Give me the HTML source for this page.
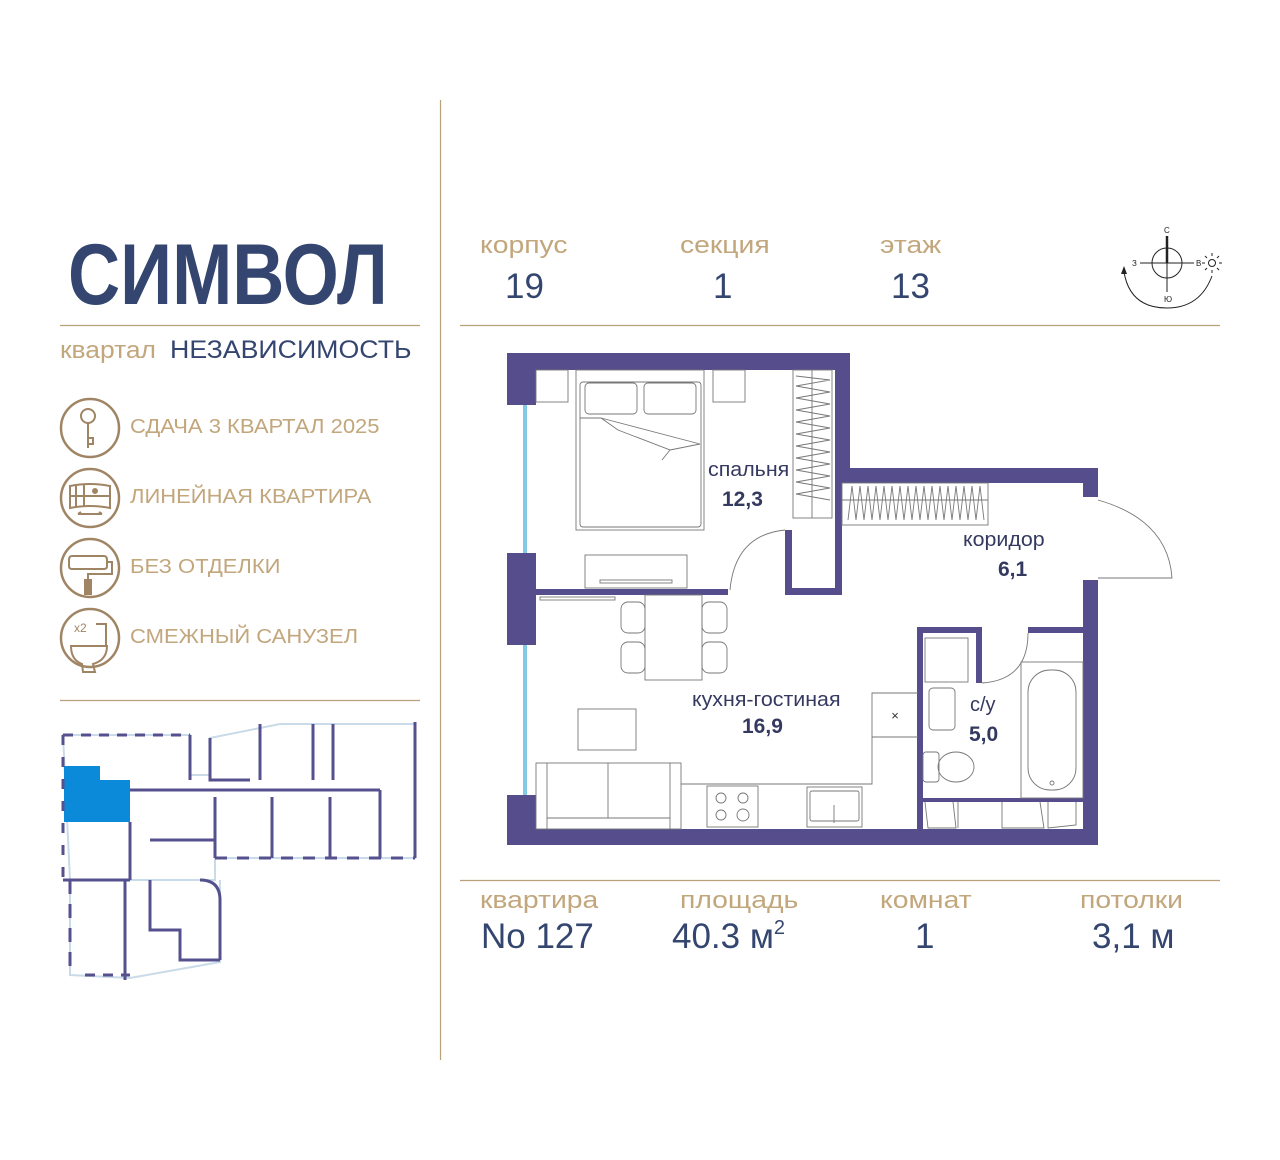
<!DOCTYPE html>
<html><head><meta charset="utf-8"><style>
html,body{margin:0;padding:0;background:#fff;}
body{width:1280px;height:1160px;position:relative;overflow:hidden;font-family:"Liberation Sans",sans-serif;}
.t{position:absolute;white-space:nowrap;transform-origin:left top;}
.g{color:#c2a67c;font-weight:300;}
.n{color:#34466f;}
.s1{transform:scaleX(1.1);}
.s2{transform:scaleX(1.18);}
.s3{transform:scaleX(1.07);}
</style></head><body>
<svg width="1280" height="1160" style="position:absolute;left:0;top:0" xmlns="http://www.w3.org/2000/svg">
<g stroke="#b7a07a" stroke-width="1.2">
<line x1="440.5" y1="100" x2="440.5" y2="1060"/>
<line x1="60" y1="325.5" x2="420" y2="325.5"/>
<line x1="60" y1="700.5" x2="420" y2="700.5"/>
<line x1="460" y1="325.5" x2="1220" y2="325.5"/>
<line x1="460" y1="880.5" x2="1220" y2="880.5"/>
</g>
<g fill="none" stroke="#a08565" stroke-width="2.5">
<circle cx="90" cy="428" r="29"/><circle cx="90" cy="498" r="29"/><circle cx="90" cy="568" r="29"/><circle cx="90" cy="638" r="29"/>
</g>
<g fill="none" stroke="#a08565" stroke-width="2">
<circle cx="88" cy="416" r="7"/><path d="M88 423 V448 M88 438 h5 v6 h-5"/>
<path d="M70 486 q20 -4 40 0 v22 q-20 -4 -40 0z M76 486 v22 M84 485 v22 M70 496 h40"/><circle cx="95" cy="491" r="2" fill="#a08565"/><path d="M78 514 h24 M78 514 l3 -2 M102 514 l-3 -2"/>
<path d="M72 556 h32 q3 0 3 4 v6 q0 3 -3 3 h-32 q-3 0 -3 -3 v-6 q0 -4 3 -4z M108 562 h4 v12 h-24 v6"/><rect x="85" y="580" width="6" height="14" fill="#a08565"/>
<path d="M71 646 h36 q0 14 -14 18 l2 8 h-12 l-1 -8 q-11 -4 -11 -18z M96 624 h10 v22"/>
</g>
<text x="74" y="632" font-family="Liberation Sans" font-size="12" fill="#a08565">x2</text>
<g stroke="#222" fill="none" stroke-width="1">
<circle cx="1167" cy="263" r="15"/>
<line x1="1167" y1="236" x2="1167" y2="292"/><line x1="1167" y1="236" x2="1167" y2="263" stroke-width="2.5"/>
<line x1="1140" y1="263" x2="1194" y2="263"/>
<path d="M1212 276 Q1200 308 1167 308 Q1130 308 1124 272"/>
<circle cx="1212" cy="263" r="3.5"/>
<path d="M1212 256v-3M1212 270v3M1205 263h-3M1219 263h3M1207 258l-2-2M1217 268l2 2M1217 258l2-2M1207 268l-2 2"/>
</g>
<path d="M1124 266 l-3 8 h6z" fill="#222"/>
<g font-family="Liberation Sans" font-size="8" fill="#222">
<text x="1164" y="233">С</text><text x="1132" y="266">З</text><text x="1196" y="266">В</text><text x="1164" y="302">Ю</text></g>

<g fill="#554d8c">
<rect x="507" y="353" width="343" height="17"/>
<rect x="507" y="353" width="29" height="52"/>
<rect x="507" y="553" width="29" height="92"/>
<rect x="507" y="795" width="29" height="50"/>
<rect x="835" y="353" width="15" height="130"/>
<rect x="835" y="468" width="263" height="15"/>
<rect x="1083" y="468" width="15" height="29"/>
<rect x="1083" y="580" width="15" height="265"/>
<rect x="507" y="829" width="591" height="16"/>
<rect x="835" y="483" width="7" height="112"/>
<rect x="785" y="530" width="7" height="65"/>
<rect x="785" y="588" width="57" height="7"/>
<rect x="536" y="589" width="192" height="6"/>
<rect x="917" y="627" width="65" height="6"/>
<rect x="976" y="627" width="6" height="56"/>
<rect x="1028" y="627" width="57" height="6"/>
<rect x="917" y="627" width="6" height="218"/>
<rect x="917" y="798" width="168" height="4"/>
</g>
<g fill="#fff" stroke="#5ab8de" stroke-width="1.5">
<rect x="508" y="405" width="19" height="148" stroke="none"/>
<rect x="508" y="645" width="19" height="150" stroke="none"/>
<line x1="524" y1="405" x2="524" y2="553"/><line x1="526" y1="405" x2="526" y2="553"/>
<line x1="524" y1="645" x2="524" y2="795"/><line x1="526" y1="645" x2="526" y2="795"/>
</g>
<g fill="none" stroke="#777" stroke-width="0.9">
<rect x="536" y="370" width="32" height="32"/><rect x="713" y="370" width="32" height="32"/>
<rect x="576" y="370" width="128" height="160"/><rect x="580" y="382" width="121" height="145" rx="3"/>
<rect x="585" y="383" width="52" height="31" rx="4"/><rect x="644" y="383" width="52" height="31" rx="4"/>
<path d="M580 418 h21 l17 12 l52 20 l-8 10 M601 418 l99 26 l-30 6"/>
<rect x="585" y="555" width="102" height="33"/><rect x="600" y="580" width="72" height="3"/>
<rect x="793" y="370" width="39" height="148"/><line x1="812" y1="370" x2="812" y2="518"/>
<path d="M796 376 l34 4 l-34 6 l34 6 l-34 6 l34 6 l-34 6 l34 6 l-34 6 l34 6 l-34 6 l34 6 l-34 6 l34 6 l-34 6 l34 6 l-34 6 l34 6 l-34 6 l34 6 l-34 6 l34 6"/>
<rect x="842" y="483" width="146" height="42"/><line x1="842" y1="500" x2="988" y2="500"/>
<path d="M848 520 l4 -34 l4 34 l4 -34 l4 34 l4 -34 l4 34 l4 -34 l4 34 l4 -34 l4 34 l4 -34 l4 34 l4 -34 l4 34 l4 -34 l4 34 l4 -34 l4 34 l4 -34 l4 34 l4 -34 l4 34 l4 -34 l4 34 l4 -34 l4 34 l4 -34 l4 34 l4 -34 l4 34 l4 -34 l4 34 l4 -34 l4 34"/>
<path d="M785 530 Q735 535 730 590"/>
<path d="M1098 500 Q1168 520 1172 578 H1098"/>
<path d="M1028 633 Q1028 680 982 683"/>
<rect x="645" y="595" width="57" height="85"/>
<rect x="621" y="602" width="24" height="31" rx="7"/><rect x="621" y="642" width="24" height="31" rx="7"/>
<rect x="702" y="602" width="25" height="31" rx="7"/><rect x="702" y="642" width="25" height="31" rx="7"/>
<rect x="540" y="597" width="75" height="3"/>
<rect x="578" y="709" width="58" height="41"/>
<rect x="536" y="763" width="145" height="66"/><line x1="547" y1="763" x2="547" y2="829"/><line x1="608" y1="763" x2="608" y2="818"/><line x1="547" y1="818" x2="670" y2="818"/><line x1="670" y1="763" x2="670" y2="829"/>
<path d="M681 784 H872 V693 H918"/><line x1="872" y1="737" x2="918" y2="737"/>
<rect x="707" y="786" width="51" height="41"/><circle cx="721" cy="798" r="5"/><circle cx="743" cy="798" r="5"/><circle cx="721" cy="815" r="5"/><circle cx="743" cy="815" r="6"/>
<rect x="807" y="787" width="55" height="40"/><rect x="810" y="791" width="49" height="30" rx="2"/><line x1="834" y1="805" x2="834" y2="823"/>
<rect x="925" y="638" width="43" height="44"/>
<rect x="929" y="688" width="26" height="42" rx="4"/>
<rect x="923" y="752" width="16" height="30" rx="3"/><ellipse cx="956" cy="767" rx="18" ry="15"/>
<rect x="1021" y="662" width="62" height="136"/><rect x="1028" y="670" width="48" height="120" rx="22"/>
<circle cx="1052" cy="783" r="2"/>
<path d="M925 802 l3 26 h28 l-3 -26 M958 802 v26 M1002 802 v26 h42 l-4 -26 M1048 802 v26 l28 -3 v-23"/>
</g>
<text x="895" y="720" font-size="13" fill="#333" text-anchor="middle">×</text>

<g fill="none" stroke="#c9dbe8" stroke-width="2">
<path d="M63 735 H190 V775 H210 V738 L280 724 H415 V858 H215 V880 H70 Z"/>
<path d="M70 880 V975 L130 978 L220 962 V880"/>
</g>
<path d="M64 766 H100 V780 H130 V822 H64 Z" fill="#0a8ad8"/>
<g fill="none" stroke="#55508e" stroke-width="3">
<path d="M63 735 V880" stroke-dasharray="10 12"/>
<path d="M63 735 H190" stroke-dasharray="10 8"/>
<path d="M190 735 V780 M210 738 V780 H250 M260 724 V780 M313 724 V780 M333 724 V780 M415 722 V858 M63 880 H130"/>
<path d="M215 858 H415" stroke-dasharray="12 10"/>
<path d="M130 790 H380 M215 797 V858 M272 797 V858 M330 797 V858 M380 790 V858 M150 840 H215 M130 822 V880 M125 880 V980 M150 880 V930 H180 V960 H220 M200 880 Q220 880 220 900 V960"/>
<path d="M70 880 V975" stroke-dasharray="14 10"/>
<path d="M85 975 H130" stroke-dasharray="10 8"/>
</g>
</svg>

<div class="t n" style="left:68px;top:226px;font-size:86px;font-weight:bold;transform:scaleX(0.84);">СИМВОЛ</div>
<div class="t g s1" style="left:60px;top:337px;font-size:24px;">квартал</div>
<div class="t n s3" style="left:170px;top:336px;font-size:25px;font-weight:300;">НЕЗАВИСИМОСТЬ</div>
<div class="t g s1" style="left:130px;top:416px;font-size:20px;">СДАЧА 3 КВАРТАЛ 2025</div>
<div class="t g s1" style="left:130px;top:486px;font-size:20px;">ЛИНЕЙНАЯ КВАРТИРА</div>
<div class="t g s1" style="left:130px;top:556px;font-size:20px;">БЕЗ ОТДЕЛКИ</div>
<div class="t g s1" style="left:130px;top:626px;font-size:20px;">СМЕЖНЫЙ САНУЗЕЛ</div>

<div class="t g s2" style="left:480px;top:232px;font-size:24px;">корпус</div>
<div class="t g s2" style="left:680px;top:232px;font-size:24px;">секция</div>
<div class="t g s2" style="left:880px;top:232px;font-size:24px;">этаж</div>
<div class="t n" style="left:505px;top:267px;font-size:35px;font-weight:300;">19</div>
<div class="t n" style="left:713px;top:267px;font-size:35px;font-weight:300;">1</div>
<div class="t n" style="left:891px;top:267px;font-size:35px;font-weight:300;">13</div>

<div class="t g s2" style="left:480px;top:887px;font-size:24px;">квартира</div>
<div class="t g s2" style="left:680px;top:887px;font-size:24px;">площадь</div>
<div class="t g s2" style="left:880px;top:887px;font-size:24px;">комнат</div>
<div class="t g s2" style="left:1080px;top:887px;font-size:24px;">потолки</div>
<div class="t n" style="left:481px;top:917px;font-size:35px;font-weight:300;">No 127</div>
<div class="t n" style="left:672px;top:917px;font-size:35px;font-weight:300;">40.3 м<sup style="font-size:20px;vertical-align:14px;">2</sup></div>
<div class="t n" style="left:915px;top:917px;font-size:35px;font-weight:300;">1</div>
<div class="t n" style="left:1092px;top:917px;font-size:35px;font-weight:300;">3,1 м</div>

<div class="t s3" style="left:708px;top:459px;font-size:20px;color:#34395f;">спальня</div>
<div class="t" style="left:722px;top:488px;font-size:21px;font-weight:bold;color:#34395f;">12,3</div>
<div class="t s3" style="left:963px;top:529px;font-size:20px;color:#34395f;">коридор</div>
<div class="t" style="left:998px;top:558px;font-size:21px;font-weight:bold;color:#34395f;">6,1</div>
<div class="t s3" style="left:692px;top:689px;font-size:20px;color:#34395f;">кухня-гостиная</div>
<div class="t" style="left:742px;top:715px;font-size:21px;font-weight:bold;color:#34395f;">16,9</div>
<div class="t" style="left:970px;top:694px;font-size:20px;color:#34395f;">с/у</div>
<div class="t" style="left:969px;top:723px;font-size:21px;font-weight:bold;color:#34395f;">5,0</div>
</body></html>
